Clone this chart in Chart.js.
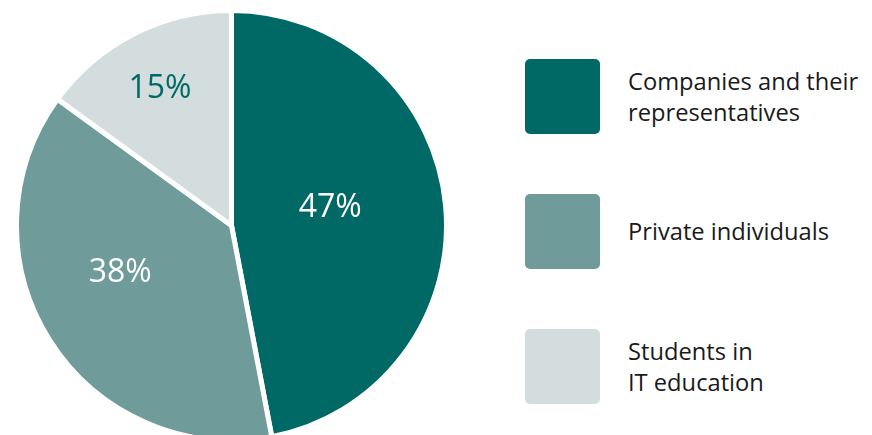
<!DOCTYPE html>
<html>
<head>
<meta charset="utf-8">
<script src="https://cdn.jsdelivr.net/npm/chart.js@4"></script>
<style>
    html, body { margin: 0; padding: 0; background: #fff; }
    body { width: 872px; height: 435px; overflow: hidden; position: relative; font-family: 'Open Sans', sans-serif; }
    #pieBox { position: absolute; left: 14px; top: 8px; width: 435px; height: 435px; }
    #legend { position: absolute; left: 525px; top: 59px; }
    .item { display: flex; align-items: center; height: 75px; margin-bottom: 60px; }
    .swatch { width: 75px; height: 75px; border-radius: 5px; flex: none; }
    .text { margin-left: 28px; font-size: 23.7px; line-height: 31px; color: #1a1a1a; }
</style>
</head>
<body>
<div id="pieBox"><canvas id="pieChart"></canvas></div>
<div id="legend"></div>
<script>
var categories = [['Companies and their', 'representatives'], ['Private individuals'], ['Students in', 'IT education']];
var shares = [47, 38, 15];
var colors = ['#006966', '#6f9c9b', '#d3dddd'];
var labelColors = ['#ffffff', '#ffffff', '#006966'];
// label placement: fraction of radius, and turn (degrees) off the slice middle
var labelRadius = [0.468, 0.558, 0.727];
var labelTurn = [-5.9, 10.5, -0.2];

var pctLabels = {
    id: 'pctLabels',
    afterDatasetsDraw: function(chart) {
        var ctx = chart.ctx;
        var arcs = chart.getDatasetMeta(0).data;
        ctx.save();
        ctx.font = '32px "Open Sans"';
        ctx.textAlign = 'center';
        ctx.textBaseline = 'alphabetic';
        for (var i = 0; i < arcs.length; i++) {
            var a = arcs[i];
            var mid = (a.startAngle + a.endAngle) / 2 + labelTurn[i] * Math.PI / 180;
            var r = a.outerRadius * labelRadius[i];
            ctx.fillStyle = labelColors[i];
            // +11.5 puts the middle of the digits on the point
            ctx.fillText(shares[i] + '%', a.x + Math.cos(mid) * r, a.y + Math.sin(mid) * r + 11.5);
        }
        ctx.restore();
    }
};

var chart = new Chart(document.getElementById('pieChart'), {
    type: 'pie',
    data: {
        labels: categories,
        datasets: [{
            data: shares,
            backgroundColor: colors,
            borderColor: '#ffffff',
            borderWidth: 5
        }]
    },
    options: {
        responsive: true,
        maintainAspectRatio: false,
        animation: false,
        layout: { padding: 0 },
        plugins: {
            legend: { display: false },
            tooltip: { enabled: false }
        }
    },
    plugins: [pctLabels]
});

// html legend built from the chart's own data
var legend = document.getElementById('legend');
chart.data.labels.forEach(function(lbl, i) {
    var item = document.createElement('div');
    item.className = 'item';
    var sw = document.createElement('div');
    sw.className = 'swatch';
    sw.style.background = chart.data.datasets[0].backgroundColor[i];
    var tx = document.createElement('div');
    tx.className = 'text';
    tx.innerHTML = lbl.join('<br>');
    item.appendChild(sw);
    item.appendChild(tx);
    legend.appendChild(item);
});
</script>
</body>
</html>
